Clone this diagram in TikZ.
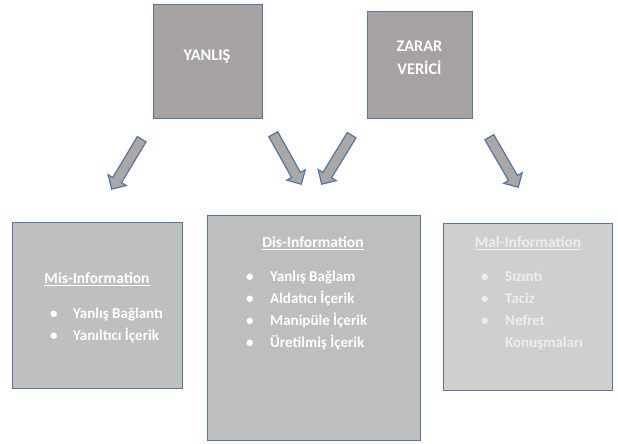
\documentclass[tikz,border=0pt]{standalone}
\usepackage{fontspec}
\setmainfont{Carlito}
\usetikzlibrary{positioning,shapes.arrows,calc}
\definecolor{boxline}{HTML}{5274AE}
\definecolor{topgray}{HTML}{A6A2A2}
\definecolor{arrowgray}{HTML}{ABA7A7}
\definecolor{misgray}{HTML}{BFBFBF}
\definecolor{disgray}{HTML}{BEBEBE}
\definecolor{malgray}{HTML}{D0CFCE}
\definecolor{maltext}{HTML}{EDEDED}
\begin{document}
\begin{tikzpicture}[x=1pt,y=-1pt,
  topbox/.style={draw=boxline, line width=1pt, fill=topgray, inner sep=0},
  toptext/.style={text=white, font=\bfseries\fontsize{16.3}{23}\selectfont,
    align=center, inner sep=0},
  lowbox/.style={draw=boxline, line width=1pt, inner sep=0},
  bigarrow/.style={single arrow, draw=boxline, fill=arrowgray, line width=1.2pt,
    inner xsep=0, inner ysep=4.5pt, single arrow head extend=5.5pt,
    single arrow head indent=0pt, allow upside down},
  heading/.style={font=\bfseries\fontsize{15.5}{18}\selectfont, inner sep=0},
  items/.style={font=\bfseries\fontsize{15}{22}\selectfont, align=left,
    inner sep=0, anchor=north west}]
\useasboundingbox (0,0) rectangle (618,444);
\def\itm#1#2{\makebox[#1][l]{\textbullet}#2}
\def\arr#1#2{\path let \p1=($(#2)-(#1)$), \n1={veclen(\x1,\y1)} in
  (#1) -- (#2) node[bigarrow, midway, sloped, minimum height=\n1] {};}
% top boxes
\node [topbox, minimum width=109pt, minimum height=113pt] (yanlis) at (207.5,61.5) {};
\node [topbox, minimum width=105pt, minimum height=106pt] (zarar) at (419.5,65) {};
\node [toptext] (yanlist) at (207,57) {YANLIŞ};
\node [toptext] (zarart) at (419.5,58) {ZARAR\\VERİCİ};
% lower boxes
\node [lowbox, fill=misgray, minimum width=170pt, minimum height=166pt] (mis) at (97,305) {};
\node [lowbox, fill=disgray, minimum width=213pt, minimum height=225pt] (dis) at (313.5,327.5) {};
\node [lowbox, fill=malgray, minimum width=169pt, minimum height=167pt] (mal) at (527.5,306.5) {};
% arrows
\coordinate (a1s) at (143,137); \coordinate (a1t) at (113,187);
\coordinate (a2s) at (272,132); \coordinate (a2t) at (300,182);
\coordinate (a3s) at (353,133); \coordinate (a3t) at (323,182);
\coordinate (a4s) at (488,135); \coordinate (a4t) at (517,185);
\arr{a1s}{a1t}
\arr{a2s}{a2t}
\arr{a3s}{a3t}
\arr{a4s}{a4t}
% texts
\node [heading, text=white] (mish) at (97,279) {\underline{Mis-Information}};
\node [items, text=white] (misl) at (50,308) {\itm{23pt}{Yanlış Bağlantı}\\\itm{23pt}{Yanıltıcı İçerik}};
\node [heading, text=white] (dish) at (313,243) {\underline{Dis-Information}};
\node [items, text=white] (disl) at (246,271) {\itm{24pt}{Yanlış Bağlam}\\\itm{24pt}{Aldatıcı İçerik}\\\itm{24pt}{Manipüle İçerik}\\\itm{24pt}{Üretilmiş İçerik}};
\node [heading, text=maltext] (malh) at (528,243) {\underline{Mal-Information}};
\node [items, text=maltext] (mall) at (481,271) {\itm{24pt}{Sızıntı}\\\itm{24pt}{Taciz}\\\itm{24pt}{Nefret}\\\hspace*{24pt}Konuşmaları};
\end{tikzpicture}
\end{document}
